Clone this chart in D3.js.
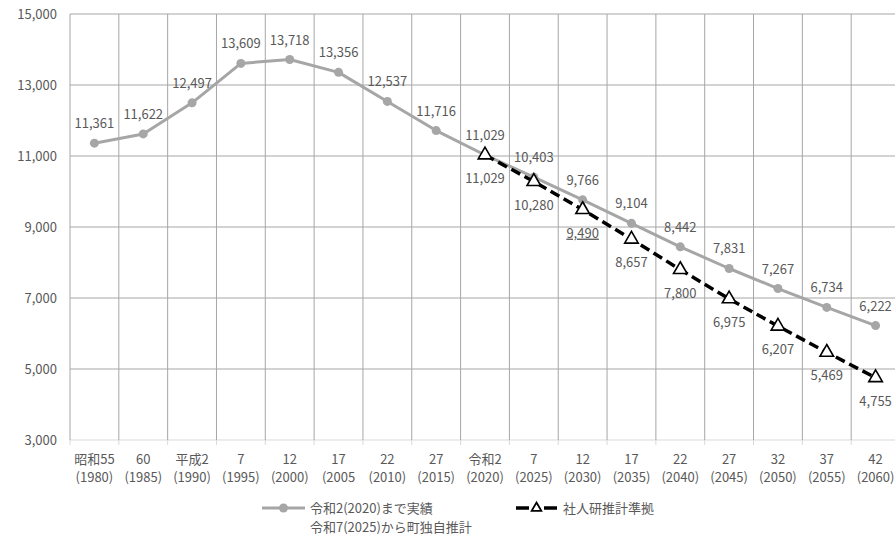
<!DOCTYPE html>
<html><head><meta charset="utf-8">
<script src="https://cdn.jsdelivr.net/npm/d3@7"></script>
<style>
body{margin:0;background:#fff;}
text{font-family:"Noto Sans CJK JP","Noto Sans",sans-serif;fill:#595959;}
</style></head>
<body><svg id="c" width="895" height="535"></svg>
<script>
const catTop = ["昭和55","60","平成2","7","12","17","22","27","令和2","7","12","17","22","27","32","37","42"];
const catBottom = ["(1980)","(1985)","(1990)","(1995)","(2000)","(2005","(2010)","(2015)","(2020)","(2025)","(2030)","(2035)","(2040)","(2045)","(2050)","(2055)","(2060)"];
const series1 = [11361,11622,12497,13609,13718,13356,12537,11716,11029,10403,9766,9104,8442,7831,7267,6734,6222];
const series2 = [null,null,null,null,null,null,null,null,11029,10280,9490,8657,7800,6975,6207,5469,4755];
const yTicks = [3000,5000,7000,9000,11000,13000,15000];
const legend1 = ["令和2(2020)まで実績","令和7(2025)から町独自推計"];
const legend2 = "社人研推計準拠";

const svg = d3.select("#c");
const x = d3.scaleBand().domain(d3.range(catTop.length)).range([70, 900]).padding(0);
const y = d3.scaleLinear().domain([3000, 15000]).range([440, 14]);
const fmt = d3.format(",");
const cx = i => x(i) + x.bandwidth()/2;

// horizontal gridlines
svg.append("g").selectAll("line").data(yTicks).join("line")
  .attr("x1", 70).attr("x2", 900).attr("y1", d=>y(d)).attr("y2", d=>y(d))
  .attr("stroke", d=> d===3000 ? "#d9d9d9" : "#a6a6a6").attr("stroke-width", 1);
// vertical gridlines
const bounds = d3.range(catTop.length+1).map(i => 70 + i*x.bandwidth());
svg.append("g").selectAll("line").data(bounds).join("line")
  .attr("x1", d=>d).attr("x2", d=>d).attr("y1", y(15000)).attr("y2", y(3000))
  .attr("stroke", "#a6a6a6").attr("stroke-width", 1);
svg.append("g").selectAll("line").data(bounds).join("line")
  .attr("x1", d=>d).attr("x2", d=>d).attr("y1", y(3000)).attr("y2", y(3000)+5)
  .attr("stroke", "#d9d9d9").attr("stroke-width", 1);

// y labels
svg.append("g").selectAll("text").data(yTicks).join("text")
  .attr("x", 57).attr("y", d=>y(d)+4.5).attr("text-anchor","end")
  .attr("font-size", 13).text(d=>fmt(d));

// x labels
const xl = svg.append("g");
xl.selectAll("text.t").data(catTop).join("text").attr("class","t")
  .attr("x",(d,i)=>cx(i)).attr("y",464).attr("text-anchor","middle").attr("font-size",13).text(d=>d);
xl.selectAll("text.b").data(catBottom).join("text").attr("class","b")
  .attr("x",(d,i)=>cx(i)).attr("y",482).attr("text-anchor","middle").attr("font-size",13).text(d=>d);

// series1
const line = d3.line().defined(d=>d!=null).x((d,i)=>cx(i)).y(d=>y(d));
svg.append("path").datum(series1).attr("d", line).attr("fill","none")
  .attr("stroke","#a6a6a6").attr("stroke-width",3).attr("stroke-linejoin","round");
svg.append("g").selectAll("circle").data(series1).join("circle")
  .attr("cx",(d,i)=>cx(i)).attr("cy",d=>y(d)).attr("r",4.5).attr("fill","#a6a6a6");

// series2
const idx2 = series2.map((d,i)=>i).filter(i=>series2[i]!=null);
const line2 = d3.line().x(i=>cx(i)).y(i=>y(series2[i]));
svg.append("path").datum(idx2).attr("d", line2).attr("fill","none")
  .attr("stroke","#000").attr("stroke-width",3.5).attr("stroke-dasharray","10,5");
const tri = d3.symbol().type(d3.symbolTriangle).size(80);
svg.append("g").selectAll("path").data(idx2).join("path")
  .attr("d", tri).attr("transform", i=>`translate(${cx(i)},${y(series2[i])})`)
  .attr("fill","#fff").attr("stroke","#000").attr("stroke-width",1.6);

// labels series1 (above)
svg.append("g").selectAll("text").data(series1).join("text")
  .attr("x",(d,i)=>cx(i)).attr("y",d=>y(d)-15).attr("text-anchor","middle")
  .attr("font-size",13).text(d=>fmt(d));
// labels series2 (below)
svg.append("g").selectAll("text").data(idx2).join("text")
  .attr("x",i=>cx(i)).attr("y",i=>y(series2[i])+28).attr("text-anchor","middle")
  .attr("font-size",13).attr("text-decoration", i=>series2[i]===9490?"underline":null)
  .text(i=>fmt(series2[i]));

// legend
const lg = svg.append("g");
lg.append("line").attr("x1",262).attr("x2",305).attr("y1",508).attr("y2",508).attr("stroke","#a6a6a6").attr("stroke-width",3);
lg.append("circle").attr("cx",283.5).attr("cy",508).attr("r",4.5).attr("fill","#a6a6a6");
lg.append("text").attr("x",310).attr("y",513).attr("font-size",13).text(legend1[0]);
lg.append("text").attr("x",310).attr("y",532).attr("font-size",13).text(legend1[1]);
lg.append("line").attr("x1",516).attr("x2",529).attr("y1",508).attr("y2",508).attr("stroke","#000").attr("stroke-width",3.5);
lg.append("line").attr("x1",544).attr("x2",557).attr("y1",508).attr("y2",508).attr("stroke","#000").attr("stroke-width",3.5);
lg.append("path").attr("d", d3.symbol().type(d3.symbolTriangle).size(40)).attr("transform","translate(536.5,508)")
  .attr("fill","#fff").attr("stroke","#000").attr("stroke-width",1.8);
lg.append("text").attr("x",563).attr("y",513).attr("font-size",13).text(legend2);
</script></body></html>
